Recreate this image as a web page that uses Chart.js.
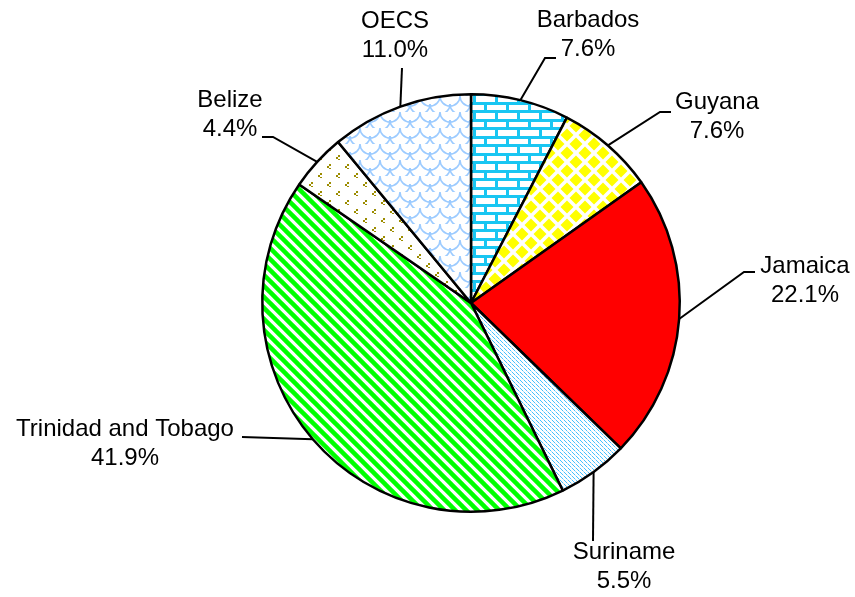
<!DOCTYPE html>
<html lang="en">
<head>
    <meta charset="UTF-8">
    <title>Pie chart - shares by country</title>
    <script src="https://cdn.jsdelivr.net/npm/chart.js"></script>
    <style>
        html, body { margin: 0; padding: 0; background: #fff; }
        #wrap { width: 855px; height: 597px; }
    </style>
</head>
<body>
    <div id="wrap"><canvas id="myChart" width="855" height="597"></canvas></div>
    <script>
        // data
        const countries = ['Barbados', 'Guyana', 'Jamaica', 'Suriname', 'Trinidad and Tobago', 'Belize', 'OECS'];
        const shares = [7.6, 7.6, 22.1, 5.5, 41.9, 4.4, 11.0];

        // label placement, relative to the pie centre (text centre, elbow, line end)
        const labelLayout = [
            { text: [117, -268], elbow: [74, -245], end: [85, -245] },
            { text: [246, -186], elbow: [189, -191], end: [200, -191] },
            { text: [334, -22], elbow: [273, -31], end: [284, -31] },
            { text: [153, 264], elbow: [122, 238], end: [122, 238] },
            { text: [-346, 141], elbow: [-229, 134], end: [-229, 134] },
            { text: [-241, -188], elbow: [-198, -166], end: [-209, -166] },
            { text: [-76, -267], elbow: [-69, -235], end: [-69, -235] }
        ];

        function tile(w, h, draw) {
            const c = document.createElement('canvas');
            c.width = w; c.height = h;
            const g = c.getContext('2d');
            g.fillStyle = '#fff';
            g.fillRect(0, 0, w, h);
            draw(g);
            return document.getElementById('myChart').getContext('2d').createPattern(c, 'repeat');
        }

        // brick
        const brick = tile(22, 17, g => {
            g.fillStyle = '#19c6f2';
            g.fillRect(0, 0, 22, 3);
            g.fillRect(0, 8, 22, 3);
            g.fillRect(0, 0, 3, 9);
            g.fillRect(11, 8, 3, 9);
        });

        // diamonds
        const diamonds = tile(18, 18, g => {
            g.fillStyle = '#ffff00';
            const r = 6.5;
            [[0, 0], [18, 0], [0, 18], [18, 18], [9, 9]].forEach(([x, y]) => {
                g.beginPath();
                g.moveTo(x, y - r); g.lineTo(x + r, y); g.lineTo(x, y + r); g.lineTo(x - r, y);
                g.closePath();
                g.fill();
            });
        });

        // small dotted diagonals
        const dotted = tile(4, 4, g => {
            g.fillStyle = '#45c0ff';
            g.fillRect(0, 0, 1, 1);
            g.fillRect(1, 1, 1, 1);
            g.fillRect(2, 2, 1, 1);
            g.fillStyle = '#a8defc';
            g.fillRect(3, 3, 1, 1);
        });

        // green stripes
        const stripes = tile(11, 11, g => {
            g.strokeStyle = '#00ff00';
            g.lineWidth = 4.5;
            for (let k = -1; k <= 1; k++) {
                g.beginPath();
                g.moveTo(k * 11 - 2, -2);
                g.lineTo(k * 11 + 13, 13);
                g.stroke();
            }
        });

        // confetti marks
        const confetti = tile(18, 18, g => {
            g.fillStyle = '#9c8c00';
            [[3, 2], [12, 11]].forEach(([x, y]) => {
                g.fillRect(x + 2, y, 2, 2); g.fillRect(x, y + 2, 2, 2); g.fillRect(x + 2, y + 4, 2, 1);
            });
        });

        // scales
        const scales = tile(20, 16, g => {
            g.strokeStyle = '#9ccbff';
            g.lineWidth = 1.6;
            g.beginPath(); g.arc(10, 0, 10, 0, Math.PI); g.stroke();
            g.beginPath(); g.arc(0, 8, 10, 0, Math.PI); g.stroke();
            g.beginPath(); g.arc(20, 8, 10, 0, Math.PI); g.stroke();
            g.beginPath(); g.arc(10, 16, 10, 0, Math.PI); g.stroke();
        });

        const fills = [brick, diamonds, '#ff0000', dotted, stripes, confetti, scales];

        const leaderLabels = {
            id: 'leaderLabels',
            afterDraw(chart) {
                const ctx = chart.ctx;
                const arcs = chart.getDatasetMeta(0).data;
                ctx.save();
                ctx.strokeStyle = '#000';
                ctx.lineWidth = 2;
                ctx.fillStyle = '#000';
                ctx.font = '24px "Liberation Sans", Arial, sans-serif';
                ctx.textAlign = 'center';
                ctx.textBaseline = 'middle';
                arcs.forEach((arc, i) => {
                    const mid = (arc.startAngle + arc.endAngle) / 2;
                    const sx = arc.x + Math.cos(mid) * arc.outerRadius;
                    const sy = arc.y + Math.sin(mid) * arc.outerRadius;
                    const L = labelLayout[i];
                    ctx.beginPath();
                    ctx.moveTo(sx, sy);
                    ctx.lineTo(arc.x + L.elbow[0], arc.y + L.elbow[1]);
                    ctx.lineTo(arc.x + L.end[0], arc.y + L.end[1]);
                    ctx.stroke();
                    const tx = arc.x + L.text[0], ty = arc.y + L.text[1];
                    ctx.fillText(countries[i], tx, ty - 14.5);
                    ctx.fillText(shares[i].toFixed(1) + '%', tx, ty + 14.5);
                });
                ctx.restore();
            }
        };

        new Chart(document.getElementById('myChart'), {
            type: 'pie',
            data: {
                labels: countries,
                datasets: [{
                    data: shares,
                    backgroundColor: fills,
                    borderColor: '#000',
                    borderWidth: 2.5
                }]
            },
            options: {
                responsive: false,
                animation: false,
                layout: { padding: { left: 261, right: 174, top: 93, bottom: 84 } },
                plugins: {
                    legend: { display: false },
                    tooltip: { enabled: false }
                }
            },
            plugins: [leaderLabels]
        });
    </script>
</body>
</html>
